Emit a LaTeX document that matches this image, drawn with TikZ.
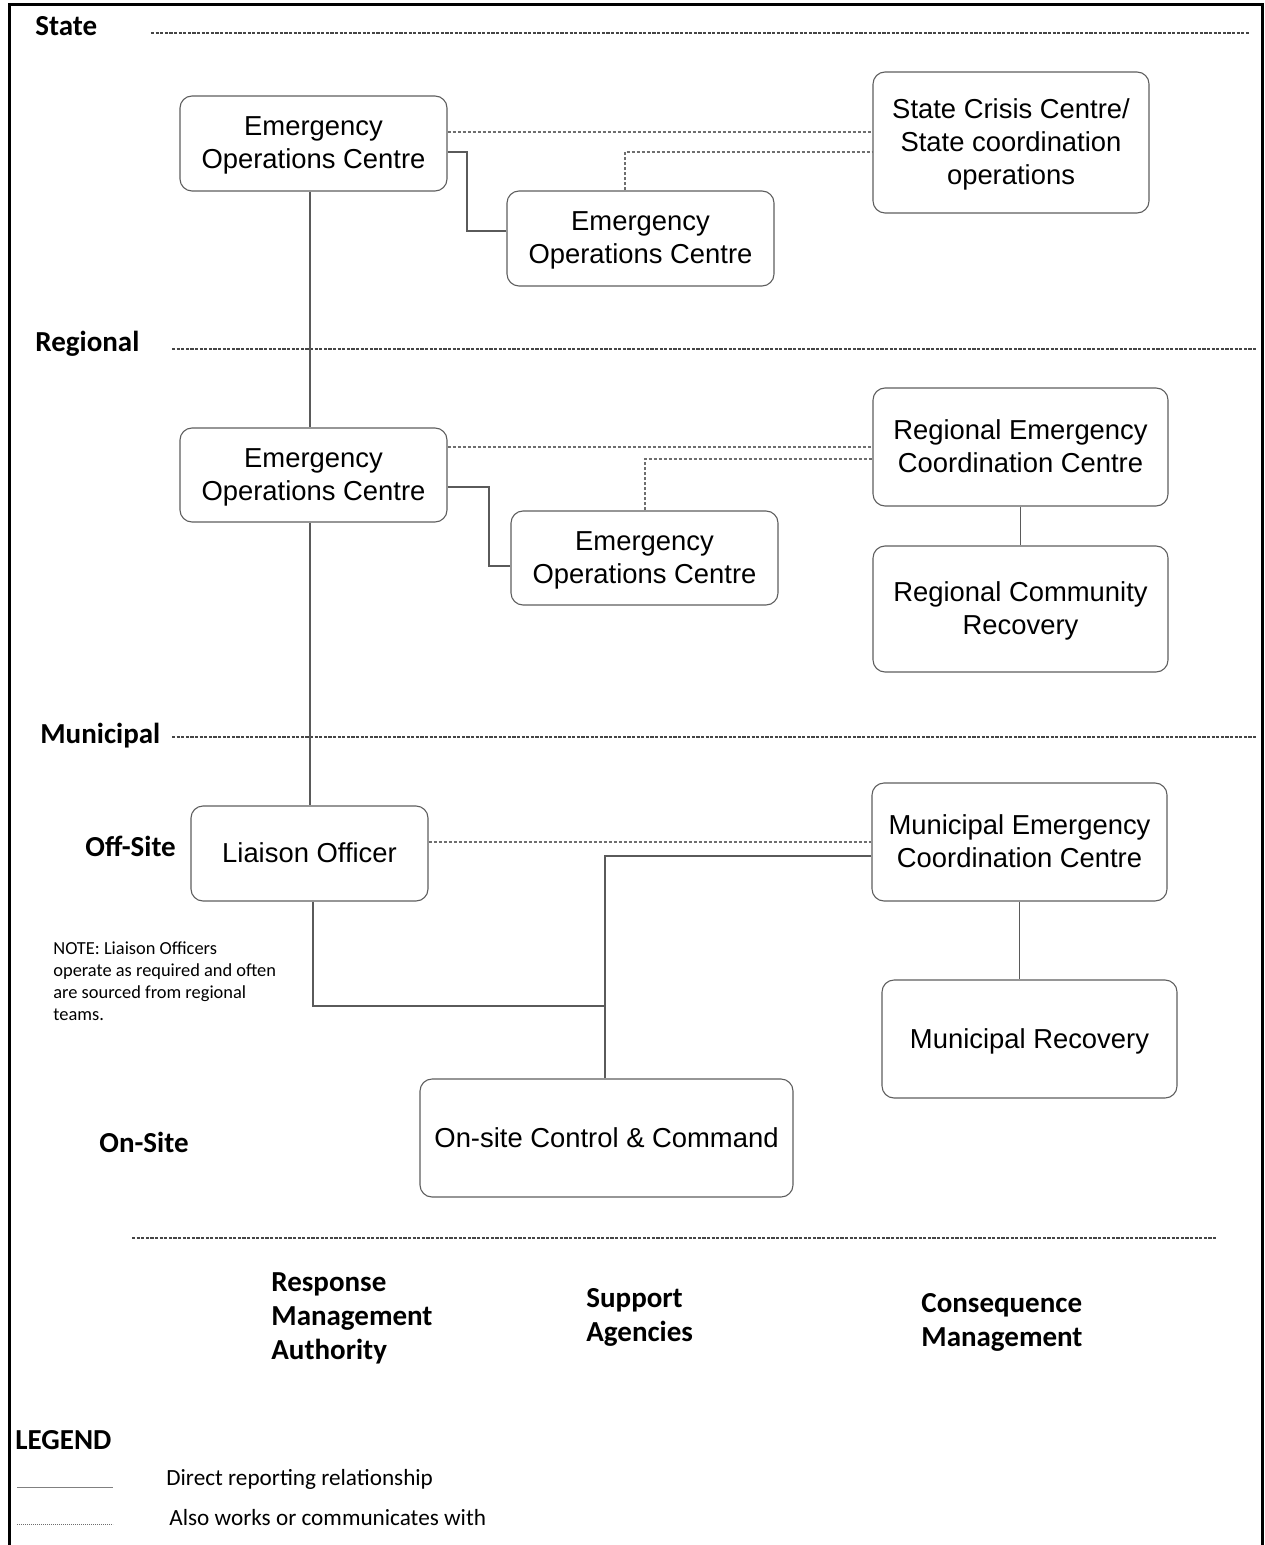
\documentclass[tikz,border=0pt]{standalone}
\usepackage{fontspec}
\setmainfont{Liberation Sans}
\newfontfamily\lab{Carlito}
\definecolor{boxgray}{HTML}{5E5E5E}
\definecolor{linegray}{HTML}{5A5A5A}
\definecolor{dotgray}{HTML}{6E6E6E}
\definecolor{levelgray}{HTML}{454545}
\begin{document}
\begin{tikzpicture}[x=0.5pt,y=-0.5pt,
  box/.style={draw=boxgray, rounded corners=6pt, line width=0.55pt, align=center,
    font=\fontsize{13.7}{16.5}\selectfont, inner sep=0pt, text depth=0.5pt},
  rep/.style={draw=linegray, line width=0.75pt},
  comm/.style={draw=dotgray, line width=0.6pt, dash pattern=on 1.5pt off 1pt},
  level/.style={draw=levelgray, line width=0.6pt, dash pattern=on 1.6pt off 0.7pt},
  lvl/.style={font=\lab\bfseries\fontsize{14.5}{17}\selectfont, inner sep=0pt, align=left},
  note/.style={font=\lab\fontsize{9.2}{11}\selectfont, inner sep=0pt, align=left},
  leg/.style={font=\lab\fontsize{11.6}{14}\selectfont, inner sep=0pt, anchor=base west},
]
\useasboundingbox (0,0) rectangle (1264,1545);
% frame
\draw[line width=1.5pt] (9,1545) -- (9,5) -- (1262,5) -- (1262,1545);

% level lines
\draw[level] (151,33) -- (1250,33);
\draw[level] (172,349) -- (1256,349);
\draw[level] (172,737) -- (1256,737);
\draw[level, line width=0.9pt] (132,1238) -- (1216,1238);

% level labels
\node[lvl, anchor=base west] (lstate) at (35,36) {State};
\node[lvl, anchor=base west] (lreg) at (35,352) {Regional};
\node[lvl, anchor=base west] (lmun) at (40,743) {Municipal};
\node[lvl, anchor=base west] (loff) at (85,856) {Off-Site};
\node[lvl, anchor=base west] (lon) at (99,1152) {On-Site};
\node[lvl, anchor=west] (lrma) at (271,1318) {Response\\Management\\Authority};
\node[lvl, anchor=west] (lsa) at (586,1317) {Support\\Agencies};
\node[lvl, anchor=west] (lcm) at (921,1322) {Consequence\\Management};

% note
\node[note, anchor=west] (note) at (53,981) {NOTE: Liaison Officers\\operate as required and often\\are sourced from regional\\teams.};

% boxes
\node[box, minimum width=133.5pt, minimum height=47.5pt] (s1) at (313.5,143.5) {Emergency\\Operations Centre};
\node[box, minimum width=133.5pt, minimum height=47.5pt] (s2) at (640.5,238.5) {Emergency\\Operations Centre};
\node[box, minimum width=138pt, minimum height=70.5pt] (sc) at (1011,142.5) {State Crisis Centre/\\State coordination\\operations};
\node[box, minimum width=133.5pt, minimum height=47pt] (r1) at (313.5,475) {Emergency\\Operations Centre};
\node[box, minimum width=133.5pt, minimum height=47pt] (r2) at (644.5,558) {Emergency\\Operations Centre};
\node[box, minimum width=147.5pt, minimum height=59pt] (re) at (1020.5,447) {Regional Emergency\\Coordination Centre};
\node[box, minimum width=147.5pt, minimum height=63pt] (rc) at (1020.5,609) {Regional Community\\Recovery};
\node[box, minimum width=118.5pt, minimum height=47.5pt] (lo) at (309.5,853.5) {Liaison Officer};
\node[box, minimum width=147.5pt, minimum height=59pt] (me) at (1019.5,842) {Municipal Emergency\\Coordination Centre};
\node[box, minimum width=147.5pt, minimum height=59pt] (mr) at (1029.5,1039) {Municipal Recovery};
\node[box, minimum width=186.5pt, minimum height=59pt] (os) at (606.5,1138) {On-site Control \& Command};

% elbow coordinates
\coordinate (k1) at (467,152);
\coordinate (k2) at (467,231);
\coordinate (k3) at (489,487);
\coordinate (k4) at (489,566);
\coordinate (d1) at (460,132);
\coordinate (d2) at (625,152);
\coordinate (d3) at (460,447);
\coordinate (d4) at (645,459);
\coordinate (d5) at (440,842);
\coordinate (vx) at (310,0);
\coordinate (j1) at (313,1006);
\coordinate (j2) at (605,1006);
\coordinate (j3) at (605,856);

% direct reporting
\draw[rep] (s1.south -| vx) -- (r1.north -| vx);
\draw[rep] (r1.south -| vx) -- (lo.north -| vx);
\draw[rep] (s1.east |- k1) -- (k1) -- (k2) -- (s2.west |- k2);
\draw[rep] (r1.east |- k3) -- (k3) -- (k4) -- (r2.west |- k4);
\draw[rep] (re.south) -- (rc.north);
\draw[rep] (me.south) -- (mr.north -| me.south);
\draw[rep] (lo.south -| j1) -- (j1) -- (j2);
\draw[rep] (os.north -| j3) -- (j3) -- (me.west |- j3);

% also works with
\draw[comm] (s1.east |- d1) -- (sc.west |- d1);
\draw[comm] (s2.north -| d2) -- (d2) -- (sc.west |- d2);
\draw[comm] (r1.east |- d3) -- (re.west |- d3);
\draw[comm] (r2.north -| d4) -- (d4) -- (re.west |- d4);
\draw[comm] (lo.east |- d5) -- (me.west |- d5);

% legend
\node[lvl, anchor=base west] (legend) at (15,1449) {LEGEND};
\coordinate (la) at (17,1487);
\coordinate (lb) at (113,1487);
\coordinate (lc) at (17,1524);
\coordinate (ld) at (113,1524);
\draw[draw=gray, line width=0.5pt] (la) -- (lb);
\draw[comm, line width=0.5pt, dash pattern=on 0.6pt off 0.4pt] (lc) -- (ld);
\node[leg] (leg1) at (166,1485) {Direct reporting relationship};
\node[leg] (leg2) at (169,1525) {Also works or communicates with};
\end{tikzpicture}
\end{document}
